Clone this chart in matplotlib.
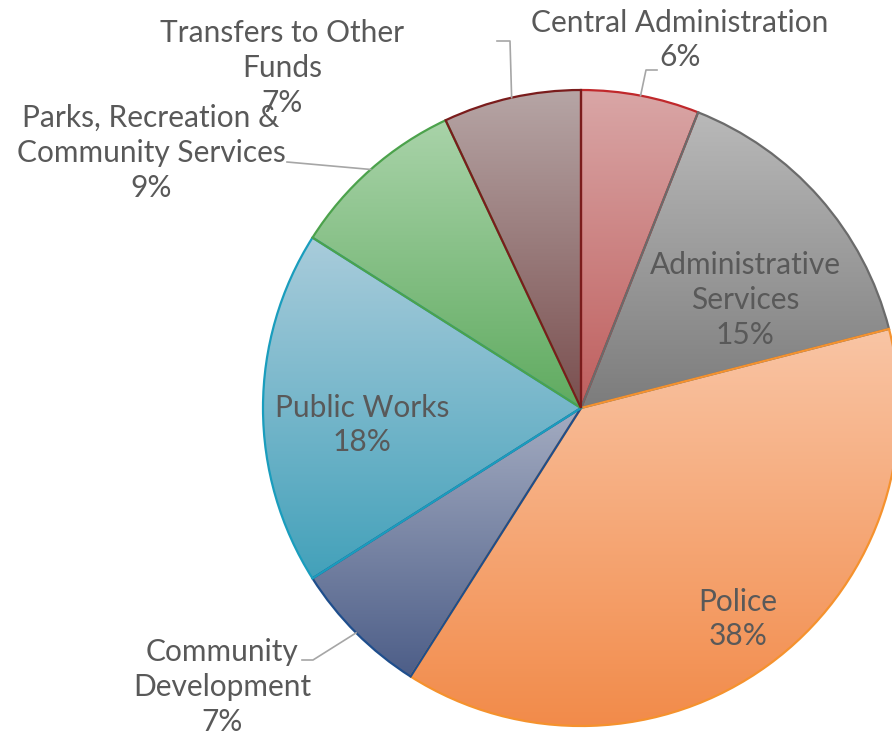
import numpy as np
import matplotlib.pyplot as plt
from matplotlib.colors import LinearSegmentedColormap

# General fund expenditures by department (percent of total)
departments = [
    "Central Administration",
    "Administrative\nServices",
    "Police",
    "Community\nDevelopment",
    "Public Works",
    "Parks, Recreation &\nCommunity Services",
    "Transfers to Other\nFunds",
]
shares = [6, 15, 38, 7, 18, 9, 7]

# vertical gradient per slice: light at the top, darker at the bottom
top_colors = ["#d9a6a6", "#b9b9b9", "#f9c5a5", "#a4acc1", "#a9ccdb", "#a9d3a9", "#b6a5a5"]
bottom_colors = ["#bf5f5e", "#7c7c7c", "#f28b4a", "#4d5e88", "#43a1ba", "#60ab60", "#7a4f4f"]
edge_colors = ["#c0282b", "#6b6b6b", "#f5922e", "#1f4e8c", "#1a9dbd", "#4ca24c", "#7a1c1c"]

W, H = 892, 735
plt.rcParams['font.family'] = ['Lato', 'DejaVu Sans']

fig = plt.figure(figsize=(W / 100, H / 100), dpi=100)
ax = fig.add_axes([0, 0, 1, 1])

cx, cy, r = 581, H - 408, 318
wedges, _ = ax.pie(shares, startangle=90, counterclock=False,
                   center=(cx, cy), radius=r)

grad = np.linspace(0, 1, 256).reshape(-1, 1)
for w, top, bot, ec in zip(wedges, top_colors, bottom_colors, edge_colors):
    bb = w.get_path().get_extents()
    cmap = LinearSegmentedColormap.from_list("g", [bot, top])
    im = ax.imshow(grad, extent=[bb.x0, bb.x1, bb.y0, bb.y1], origin='lower',
                   cmap=cmap, aspect='auto', zorder=1, interpolation='bilinear')
    im.set_clip_path(w)
    w.set_facecolor('none')
    w.set_edgecolor(ec)
    w.set_linewidth(1.6)
    w.set_zorder(2)

# label centres (pixels from top-left) and leader elbows
label_pos = [(680, 40), (745, 300), (738, 619), (222, 687),
             (362, 425), (151, 153), (282, 68)]
leader_elbow = {0: [(646, 70), (657, 70)],
                3: [(313, 660), (302, 660)],
                5: [(287, 162)],
                6: [(510, 41), (497, 41)]}

text_color = "#595959"
cum = np.cumsum([0] + shares[:-1])
for i, (name, s) in enumerate(zip(departments, shares)):
    x, y = label_pos[i]
    ax.text(x, H - y, f"{name}\n{s}%", ha='center', va='center',
            fontsize=21.5, color=text_color, linespacing=1.3, zorder=4)
    if i in leader_elbow:
        theta = np.deg2rad(90 - 360 * (cum[i] + s / 2) / 100)
        pts = [(cx + r * np.cos(theta), cy + r * np.sin(theta))]
        pts += [(px, H - py) for px, py in leader_elbow[i]]
        xs, ys = zip(*pts)
        ax.plot(xs, ys, color="#a6a6a6", lw=1.2, zorder=3)

ax.set_xlim(0, W)
ax.set_ylim(0, H)
ax.set_aspect('auto')
ax.axis('off')

fig.savefig("out.png", dpi=100)
